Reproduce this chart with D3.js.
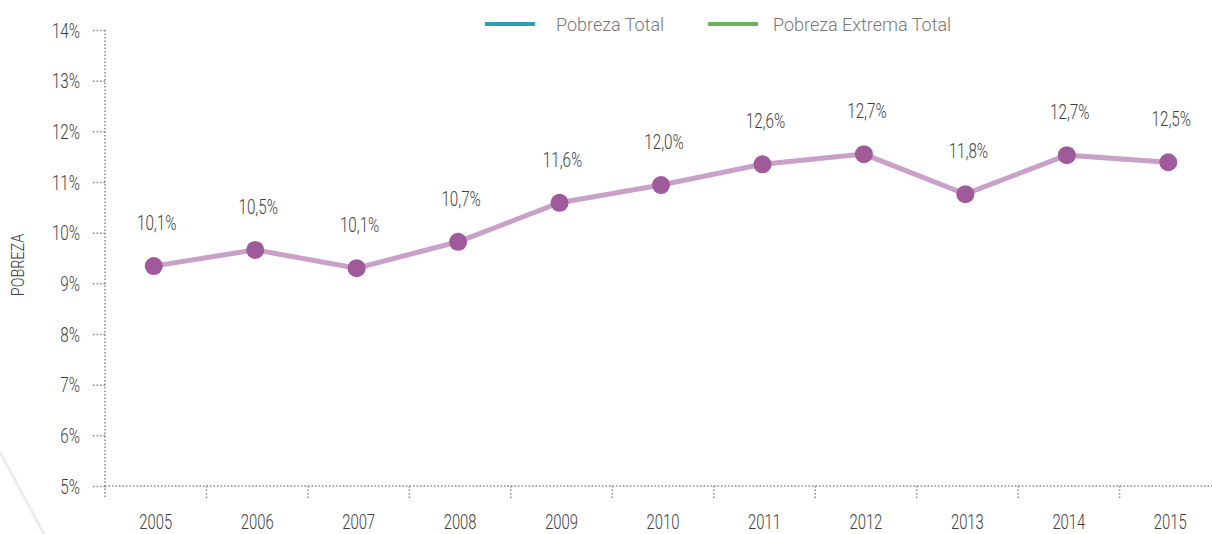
<html>
<head>
<meta charset="UTF-8">
<script src="https://d3js.org/d3.v7.min.js"></script>
<style>
  body { margin: 0; background: #fff; }
  text { font-family: "Roboto", sans-serif; font-weight: 300; }
</style>
</head>
<body>
<svg id="chart" width="1212" height="534"></svg>
<script>
// data
const years = ["2005","2006","2007","2008","2009","2010","2011","2012","2013","2014","2015"];
const plotted = [9.34, 9.66, 9.30, 9.82, 10.59, 10.94, 11.35, 11.55, 10.76, 11.53, 11.39];
const labels = ["10,1%","10,5%","10,1%","10,7%","11,6%","12,0%","12,6%","12,7%","11,8%","12,7%","12,5%"];
const yTicks = [5,6,7,8,9,10,11,12,13,14];
const legendNames = ["Pobreza Total", "Pobreza Extrema Total"];
const legendColors = ["#2e9fb2", "#6db35e"];

let svg = d3.select("svg#chart");
const squeeze = 0.76;

// condensed looking text: draw at a point and squeeze horizontally
function ctext(px, py, str, size, anchor) {
  return svg.append("text")
     .attr("transform", "translate(" + px + "," + py + ") scale(" + squeeze + ",1)")
     .attr("text-anchor", anchor).attr("fill", "#3d3d3d")
     .style("font-size", size + "px")
     .text(str);
}

// faint decorative stroke in the corner
svg.append("line")
   .attr("x1", 0).attr("y1", 452).attr("x2", 44).attr("y2", 534)
   .attr("stroke", "#ececec").attr("stroke-width", 3);

let x = d3.scaleBand().domain(years).range([105, 1221]);
let y = d3.scaleLinear().domain([5, 14]).range([486, 30]);

// y axis
let yAxis = d3.axisLeft(y).tickValues(yTicks).tickSize(14).tickPadding(0)
              .tickFormat(d => d + "%");
let gy = svg.append("g").attr("transform", "translate(105,0)").call(yAxis);
gy.select(".domain").remove();
gy.selectAll(".tick line").attr("stroke", "#888").attr("stroke-width", 1.5).attr("stroke-dasharray", "1.5,2");
gy.selectAll(".tick text")
  .attr("x", 0).attr("dy", null).attr("y", 7)
  .attr("transform", "translate(-25,0) scale(" + squeeze + ",1)")
  .attr("fill", "#3d3d3d").style("font-size", "20px").style("font-family", "Roboto, sans-serif");
svg.append("line")
   .attr("x1", 105).attr("x2", 105).attr("y1", 30).attr("y2", 498)
   .attr("stroke", "#888").attr("stroke-width", 1.5).attr("stroke-dasharray", "1.5,2");

// x axis
svg.append("line")
   .attr("x1", 105).attr("x2", 1212).attr("y1", 486).attr("y2", 486)
   .attr("stroke", "#888").attr("stroke-width", 1.5).attr("stroke-dasharray", "1.5,2");
years.slice(1).forEach(d => {
  svg.append("line")
     .attr("x1", x(d)).attr("x2", x(d)).attr("y1", 486).attr("y2", 498)
     .attr("stroke", "#888").attr("stroke-width", 1.5).attr("stroke-dasharray", "1.5,2");
});
years.forEach(d => {
  ctext(x(d) + x.bandwidth() / 2, 529, d, 19.5, "middle");
});

// y label
svg.append("text")
   .attr("transform", "translate(24,265) rotate(-90) scale(0.8,1)")
   .attr("text-anchor", "middle").attr("fill", "#3d3d3d").style("font-size", "18px")
   .text("POBREZA");

// line + points
let cx = d => x(d) + x.bandwidth() / 2 - 2;
let line = d3.line().x((d, i) => cx(years[i])).y(d => y(d));
svg.append("path").datum(plotted)
   .attr("d", line).attr("fill", "none")
   .attr("stroke", "#c9a0c8").attr("stroke-width", 5);

plotted.forEach((v, i) => {
  svg.append("circle")
     .attr("cx", cx(years[i])).attr("cy", y(v)).attr("r", 9)
     .attr("fill", "#a0599a");
  ctext(cx(years[i]) + 3, y(v) - 36, labels[i], 20, "middle");
});

// legend
let lx = [485, 708];
let tx = [556, 773];
legendNames.forEach((n, i) => {
  svg.append("line")
     .attr("x1", lx[i]).attr("x2", lx[i] + 50).attr("y1", 24).attr("y2", 24)
     .attr("stroke", legendColors[i]).attr("stroke-width", 4);
  svg.append("text")
     .attr("x", tx[i]).attr("y", 31)
     .attr("fill", "#777").style("font-size", "18px")
     .text(n);
});
</script>
</body>
</html>
